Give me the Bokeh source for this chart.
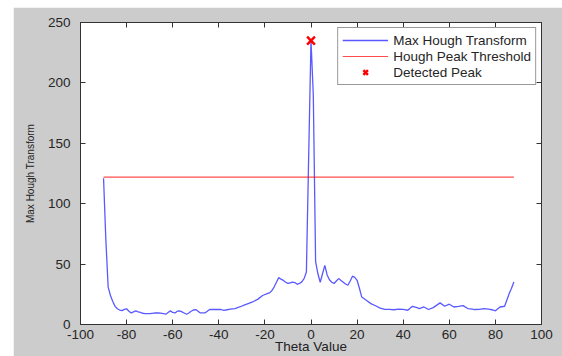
from bokeh.plotting import figure
from bokeh.models import (Range1d, LinearAxis, SingleIntervalTicker, Legend, LegendItem,
                          NumeralTickFormatter)
from bokeh.embed import file_html
from bokeh.resources import INLINE

# ---- data ----
theta = [-90, -89, -88, -87, -86, -85, -84, -83, -82, -81, -80, -79, -78, -77, -76,
         -75, -74, -73, -72, -70, -68, -66, -64, -63, -62, -61, -60, -59, -58, -57,
         -56, -55, -54, -53, -52, -51, -50, -49, -48, -46, -45, -44, -42, -40, -39,
         -38, -37, -35, -33, -31, -29, -27, -25, -23, -21, -19, -18, -17, -16, -15,
         -14, -13, -12, -11, -10, -9, -8, -7, -6, -5, -4, -3, -2, -1, 0,
         1, 2, 3, 4, 5, 6, 7, 8, 9, 10, 11, 12, 13, 14, 15,
         16, 17, 18, 19, 20, 21, 22, 24, 26, 28, 30, 32, 34, 36, 38,
         40, 42, 44, 46, 47, 49, 51, 53, 56, 58, 60, 62, 64, 66, 68,
         70, 71, 73, 75, 77, 79, 80, 82, 84, 86, 87, 88]
max_hough = [121, 70, 31, 24, 19, 15, 13, 12, 11.5, 12.5, 13, 11, 9.5, 10.5, 11.3,
             10.5, 10, 9.3, 9, 9, 9.5, 9.6, 9, 8.5, 10, 11.3, 10, 9.6, 11, 11.3,
             10.5, 9.5, 8.5, 9.5, 11, 12, 12.4, 11, 9.6, 9.6, 11, 12.4, 12.4, 12.5, 12.4,
             11.8, 12, 12.8, 13.2, 14.5, 16, 17.5, 19, 21, 24, 25.5, 26.2, 28, 31, 35,
             38.8, 37.5, 36.5, 35, 34, 34.5, 35, 34.7, 33.3, 34, 35.3, 38, 43.5, 140, 235,
             190, 52, 42, 35, 42, 49, 41, 37, 35, 34, 36, 38, 36.5, 35, 33.5,
             32.5, 36, 40, 39, 36.6, 30, 22.8, 20, 17.3, 15.5, 13.5, 12.5, 12.5, 12.2, 12.8,
             12.5, 11.8, 15.1, 14, 13.2, 14.5, 12.4, 14, 17.9, 15.1, 16.8, 14.5, 15, 15.6, 13.2,
             12.8, 12.4, 12.5, 13.2, 12.8, 12, 11.3, 14.5, 15.1, 25.6, 30, 35.2]
threshold = 122
peak_theta = [0]
peak_value = [235]

x_tick_step = 20
y_tick_step = 50

FONT = "Liberation Sans"
AX = "#333333"

p = figure(width=549, height=349, output_backend="svg", toolbar_location=None,
           x_range=Range1d(-100, 100), y_range=Range1d(0, 250),
           min_border_left=67, min_border_right=21, min_border_top=15, min_border_bottom=32,
           border_fill_color="#cccccc", background_fill_color="white",
           outline_line_color=AX, margin=(7, 0, 0, 13))
p.xgrid.visible = False
p.ygrid.visible = False

r_blue = p.line(theta, max_hough, line_color="blue", line_alpha=0.65, line_width=1.3)
r_red = p.line([theta[0], theta[-1]], [threshold, threshold], line_color="red",
               line_alpha=0.7, line_width=1.2)
r_pk = p.scatter(peak_theta, peak_value, marker="x", size=11, line_color="red",
                 line_width=2.5)

def style_axis(ax, ticker, show_labels=True):
    ax.ticker = ticker
    ax.formatter = NumeralTickFormatter(format="0")
    ax.axis_line_color = AX
    ax.major_tick_line_color = AX
    ax.major_tick_in = 5
    ax.major_tick_out = 0
    ax.minor_tick_line_color = None
    ax.major_label_text_font = FONT
    ax.major_label_text_color = "#262626"
    ax.major_label_text_font_size = "13.5px"
    if not show_labels:
        ax.major_label_text_color = None
        ax.major_label_standoff = 0

xax = p.xaxis[0]
style_axis(xax, SingleIntervalTicker(interval=x_tick_step))
xax.major_label_standoff = 1
xax.axis_label = "Theta Value"
xax.axis_label_text_font = FONT
xax.axis_label_text_font_style = "normal"
xax.axis_label_text_font_size = "13.5px"
xax.axis_label_text_color = "#222222"
xax.axis_label_standoff = -3

yax = p.yaxis[0]
style_axis(yax, SingleIntervalTicker(interval=y_tick_step))
yax.major_label_standoff = 6
yax.axis_label = "Max Hough Transform"
yax.axis_label_text_font = FONT
yax.axis_label_text_font_style = "normal"
yax.axis_label_text_font_size = "10px"
yax.axis_label_text_color = "#222222"
yax.axis_label_standoff = 9

top_ax = LinearAxis()
style_axis(top_ax, SingleIntervalTicker(interval=x_tick_step), show_labels=False)
p.add_layout(top_ax, "above")
right_ax = LinearAxis()
style_axis(right_ax, SingleIntervalTicker(interval=y_tick_step), show_labels=False)
p.add_layout(right_ax, "right")

legend = Legend(items=[
    LegendItem(label="Max Hough Transform", renderers=[r_blue]),
    LegendItem(label="Hough Peak Threshold", renderers=[r_red]),
    LegendItem(label="Detected Peak", renderers=[r_pk]),
], location="top_right")
legend.margin = 5
legend.padding = 4
legend.spacing = 0
legend.glyph_width = 46
legend.glyph_height = 16
legend.label_height = 16
legend.label_standoff = 5
legend.label_text_font = FONT
legend.label_text_font_size = "13.5px"
legend.label_text_color = "#262626"
legend.border_line_color = AX
legend.border_line_width = 1
legend.background_fill_color = "white"
legend.background_fill_alpha = 1.0
p.add_layout(legend)

open("out.html", "w").write(file_html(p, INLINE))
